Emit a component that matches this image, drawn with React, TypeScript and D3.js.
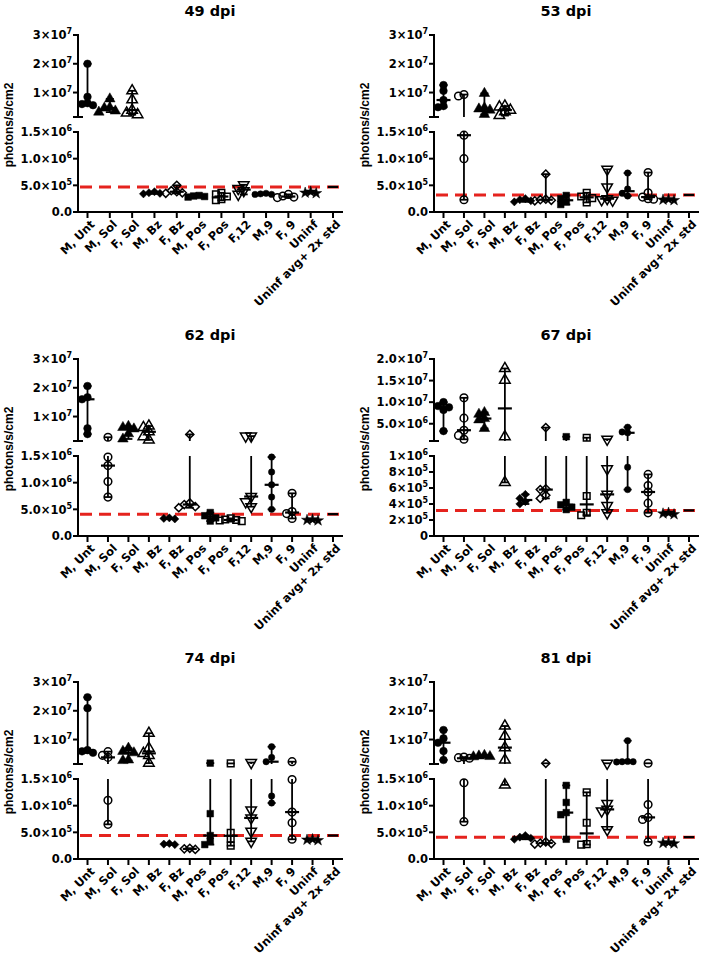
import React from "react";
import * as d3 from "d3";

const categories = ["M, Unt", "M, Sol", "F, Sol", "M, Bz", "F, Bz", "M, Pos", "F, Pos", "F,12", "M,9", "F, 9", "Uninf", "Uninf avg+ 2x std"];

// symbol of each plotted column; the 49 dpi plot has no open-circle 2nd column
const columnMarkers = ["circle", "openCircle", "triangle", "openTriangle", "diamond", "openDiamond", "square", "openSquare", "openTriangleDown", "dot", "openCircle", "star", "none"];
const markers49 = columnMarkers.filter((_, i) => i !== 1);

const dpi49 = [
  [2.0e7, 8.5e6, 6.3e6, 6.0e6, 5.6e6],
  [7.8e6, 4.8e6, 4.6e6, 3.6e6, 3.2e6],
  [1.06e7, 7.5e6, 3.9e6, 2.9e6, 2.3e6],
  [3.8e5, 3.6e5, 3.5e5, 3.4e5],
  [5.0e5, 4.0e5, 3.8e5, 3.6e5, 3.5e5],
  [3.1e5, 3.0e5, 2.9e5, 2.8e5],
  [3.6e5, 3.3e5, 2.9e5, 2.4e5, 2.2e5],
  [5.1e5, 4.4e5, 4.0e5, 3.3e5],
  [3.5e5, 3.4e5, 3.3e5, 3.3e5],
  [3.3e5, 3.0e5, 2.8e5, 2.7e5],
  [3.8e5, 3.6e5, 3.5e5],
  [4.7e5],
];

const dpi53 = [
  [1.26e7, 1.06e7, 7.4e6, 5.3e6, 4.9e6],
  [9.3e6, 8.8e6, 1.44e6, 1.0e6, 2.3e5],
  [9.7e6, 4.7e6, 4.3e6, 3.9e6, 2.4e6],
  [5.3e6, 5.0e6, 3.9e6, 3.3e6, 2.0e6],
  [2.5e5, 2.3e5, 2.1e5, 1.9e5],
  [7.1e5, 2.4e5, 2.3e5, 2.2e5, 2.1e5],
  [3.1e5, 2.5e5, 1.9e5, 1.4e5],
  [3.6e5, 2.9e5, 2.6e5, 1.8e5],
  [8.0e5, 4.7e5, 2.5e5, 2.3e5, 2.2e5],
  [7.3e5, 4.3e5, 3.5e5, 3.0e5],
  [7.4e5, 3.6e5, 2.8e5, 2.5e5, 2.4e5],
  [2.4e5, 2.3e5, 2.2e5],
  [3.2e5],
];

const dpi62 = [
  [2.06e7, 1.67e7, 1.6e7, 5.9e6, 3.9e6],
  [2.8e6, 1.48e6, 1.32e6, 1.02e6, 7.3e5],
  [6.6e6, 6.2e6, 5.7e6, 4.0e6, 2.2e6],
  [6.7e6, 6.2e6, 4.7e6, 3.0e6, 1.9e6],
  [3.4e5, 3.3e5, 3.2e5],
  [3.8e6, 6.2e5, 5.9e5, 5.5e5, 5.3e5],
  [4.4e5, 3.8e5, 3.4e5, 2.8e5],
  [3.3e5, 3.1e5, 3.0e5, 2.9e5, 2.8e5],
  [3.2e6, 3.2e6, 7.4e5, 6.4e5, 5.5e5],
  [1.48e6, 1.2e6, 9.6e5, 7.3e5, 5.0e5],
  [8.0e5, 4.6e5, 4.2e5, 3.3e5],
  [3.1e5, 3.0e5, 2.9e5],
  [4.1e5],
];

const dpi67 = [
  [1.0e7, 9.1e6, 8.8e6, 8.2e6, 3.3e6],
  [1.1e7, 6.3e6, 3.5e6, 2.3e6, 1.4e6],
  [7.6e6, 7.2e6, 6.2e6, 5.9e6, 3.9e6],
  [1.78e7, 1.51e7, 2.0e6, 6.7e5],
  [5.2e5, 4.7e5, 4.3e5, 4.0e5],
  [4.1e6, 5.9e5, 5.8e5, 5.1e5, 4.7e5],
  [2.0e6, 4.2e5, 3.9e5, 3.6e5, 3.3e5],
  [1.76e6, 5.0e5, 2.9e5, 2.6e5],
  [1.4e6, 8.4e5, 5.2e5, 3.8e5, 2.9e5],
  [4.2e6, 3.1e6, 2.9e6, 8.6e5, 5.8e5],
  [7.7e5, 6.3e5, 5.5e5, 4.1e5, 2.9e5],
  [2.9e5, 2.8e5, 2.7e5],
  [3.2e5],
];

const dpi74 = [
  [2.47e7, 2.09e7, 6.3e6, 5.9e6, 5.4e6],
  [5.8e6, 4.5e6, 3.8e6, 1.1e6, 6.5e5],
  [7.0e6, 5.9e6, 5.4e6, 2.9e6, 2.7e6],
  [1.22e7, 7.0e6, 5.2e6, 4.5e6, 1.8e6],
  [2.9e5, 2.8e5, 2.7e5],
  [2.0e5, 1.9e5, 1.8e5],
  [1.8e6, 8.5e5, 4.4e5, 3.3e5, 2.7e5],
  [1.7e6, 4.9e5, 3.8e5, 2.5e5],
  [2.0e6, 9.2e5, 7.7e5, 5.2e5, 3.3e5],
  [7.5e6, 3.8e6, 2.3e6, 1.18e6, 1.05e6],
  [2.3e6, 1.49e6, 8.8e5, 6.8e5, 3.7e5],
  [3.7e5, 3.6e5, 3.5e5],
  [4.4e5],
];

const dpi81 = [
  [1.33e7, 1.04e7, 8.9e6, 6.0e6, 2.9e6],
  [3.9e6, 3.7e6, 3.5e6, 1.43e6, 7.0e5],
  [4.5e6, 4.3e6, 4.1e6, 4.0e6],
  [1.47e7, 1.12e7, 7.2e6, 2.9e6, 1.39e6],
  [4.4e5, 4.1e5, 3.9e5, 3.7e5],
  [1.75e6, 3.2e5, 3.0e5, 2.9e5, 2.8e5],
  [1.38e6, 1.06e6, 8.7e5, 8.3e5, 3.7e5],
  [1.25e6, 6.8e5, 2.8e5, 2.7e5],
  [1.75e6, 1.04e6, 9.3e5, 9.0e5, 5.5e5],
  [9.6e6, 2.4e6, 2.3e6, 2.3e6, 2.2e6],
  [1.75e6, 1.02e6, 7.8e5, 7.4e5, 3.2e5],
  [3.1e5, 3.0e5, 2.9e5],
  [4.1e5],
];

const stdLowerTicks = [0, 5e5, 1e6, 1.5e6];
const stdUpperTicks = [1e7, 2e7, 3e7];
const lowerTicks67 = [0, 2e5, 4e5, 6e5, 8e5, 1e6];
const upperTicks67 = [5e6, 1e7, 1.5e7, 2e7];

const panels = [
  { title: "49 dpi", data: dpi49, markers: markers49, lowMax: 1.5e6, upMax: 3e7, lowTicks: stdLowerTicks, upTicks: stdUpperTicks, lowDec: 1, upDec: 0 },
  { title: "53 dpi", data: dpi53, markers: columnMarkers, lowMax: 1.5e6, upMax: 3e7, lowTicks: stdLowerTicks, upTicks: stdUpperTicks, lowDec: 1, upDec: 0 },
  { title: "62 dpi", data: dpi62, markers: columnMarkers, lowMax: 1.5e6, upMax: 3e7, lowTicks: stdLowerTicks, upTicks: stdUpperTicks, lowDec: 1, upDec: 0 },
  { title: "67 dpi", data: dpi67, markers: columnMarkers, lowMax: 1e6, upMax: 2e7, lowTicks: lowerTicks67, upTicks: upperTicks67, lowDec: 0, upDec: 1 },
  { title: "74 dpi", data: dpi74, markers: columnMarkers, lowMax: 1.5e6, upMax: 3e7, lowTicks: stdLowerTicks, upTicks: stdUpperTicks, lowDec: 1, upDec: 0 },
  { title: "81 dpi", data: dpi81, markers: columnMarkers, lowMax: 1.5e6, upMax: 3e7, lowTicks: stdLowerTicks, upTicks: stdUpperTicks, lowDec: 1, upDec: 0 },
];

const BOLD = "'DejaVu Sans', sans-serif";
const ARIAL = "'Liberation Sans', Arial, sans-serif";
const RED = "#e5231e";

function sci(v, dec) {
  if (v === 0) return { base: dec ? "0.0" : "0", exp: null };
  const e = Math.floor(Math.log10(v) + 1e-9);
  const m = v / Math.pow(10, e);
  return { base: m.toFixed(dec) + "×10", exp: String(e) };
}

function symbolPath(kind) {
  const s = (t, size) => d3.symbol(t, size)();
  switch (kind) {
    case "circle":
    case "openCircle":
      return s(d3.symbolCircle, 46);
    case "dot":
      return s(d3.symbolCircle, 32);
    case "triangle":
    case "openTriangle":
    case "openTriangleDown":
      return s(d3.symbolTriangle, 48);
    case "diamond":
    case "openDiamond":
      return s(d3.symbolDiamond2, 42);
    case "square":
    case "openSquare":
      return s(d3.symbolSquare, 44);
    case "star":
      return s(d3.symbolStar, 38);
    default:
      return null;
  }
}

// spread overlapping points sideways, roughly like a column scatter
function spread(vals, cx, yOf) {
  const placed = [];
  const order = vals.map(v => ({ v, y: yOf(v) })).sort((a, b) => a.y - b.y);
  for (const pt of order) {
    for (const k of [0, -1, 1, -2, 2, -3, 3]) {
      const x = cx + k * 5.5;
      if (placed.every(q => Math.hypot(q.x - x, q.y - pt.y) >= 5.5)) {
        placed.push({ x, y: pt.y });
        break;
      }
    }
  }
  return placed;
}

function Panel({ p, x0, oy }) {
  const lower = d3.scaleLinear().domain([0, p.lowMax]).range([oy + 212, oy + 132]);
  const upper = d3.scaleLinear().domain([p.lowMax, p.upMax]).range([oy + 117, oy + 35]);
  const yOf = v => (v <= p.lowMax ? lower(v) : upper(v));
  const xCol = d3.scalePoint().domain(d3.range(p.data.length)).range([x0 + 9.5, x0 + 255]);
  const xLab = d3.scalePoint().domain(categories).range([x0 + 9.5, x0 + 255]);
  const thr = p.data[p.data.length - 1][0];
  const zero = lower(0);

  const tickLabel = (v, dec, y, key) => {
    const t = sci(v, dec);
    return (
      <text key={key} x={x0 - 6} y={y + 4.3} textAnchor="end" fontFamily={BOLD} fontWeight="bold" fontSize={11.5}>
        {t.base}
        {t.exp && <tspan dy={-5} fontSize={8}>{t.exp}</tspan>}
      </text>
    );
  };

  return (
    <g>
      <text x={x0 + 132} y={oy + 16} textAnchor="middle" fontFamily={BOLD} fontWeight="bold" fontSize={14.5}>{p.title}</text>
      <text transform={`translate(${x0 - 65},${oy + 125}) rotate(-90)`} textAnchor="middle" fontFamily={ARIAL} fontWeight="bold" fontSize={12}>photons/s/cm2</text>

      {/* red dashed threshold */}
      <line x1={x0 + 2} x2={x0 + 263} y1={lower(thr)} y2={lower(thr)} stroke={RED} strokeWidth={3} strokeDasharray="12 7" />

      {/* y axis, upper segment */}
      <line x1={x0} x2={x0} y1={upper(p.lowMax)} y2={upper(p.upMax) - 1} stroke="#000" strokeWidth={2} />
      <line x1={x0 - 5} x2={x0 + 5} y1={upper(p.lowMax)} y2={upper(p.lowMax)} stroke="#000" strokeWidth={2} />
      {p.upTicks.map(v => (
        <g key={"u" + v}>
          <line x1={x0 - 5} x2={x0} y1={upper(v)} y2={upper(v)} stroke="#000" strokeWidth={2} />
          {tickLabel(v, p.upDec, upper(v), "ul" + v)}
        </g>
      ))}

      {/* y axis, lower segment */}
      <line x1={x0} x2={x0} y1={zero + 1} y2={lower(p.lowMax) - 1} stroke="#000" strokeWidth={2} />
      {p.lowTicks.map(v => (
        <g key={"l" + v}>
          <line x1={x0 - 5} x2={x0} y1={lower(v)} y2={lower(v)} stroke="#000" strokeWidth={2} />
          {tickLabel(v, p.lowDec, lower(v), "ll" + v)}
        </g>
      ))}

      {/* x axis */}
      <line x1={x0 - 1} x2={x0 + 265} y1={zero} y2={zero} stroke="#000" strokeWidth={2} />
      {p.data.map((_, i) => (
        <line key={"xt" + i} x1={xCol(i)} x2={xCol(i)} y1={zero} y2={zero + 6} stroke="#000" strokeWidth={2} />
      ))}
      {categories.map(c => (
        <text key={c} transform={`translate(${xLab(c) + 8},${zero + 13}) rotate(-45)`} textAnchor="end" fontFamily={BOLD} fontWeight="bold" fontSize={11.5}>{c}</text>
      ))}

      {/* columns: median with range + points */}
      {p.data.map((vals, i) => {
        const cx = xCol(i);
        const kind = p.markers[i];
        const mn = d3.min(vals), mx = d3.max(vals), md = d3.median(vals);
        const segs = [];
        if (mx <= p.lowMax) segs.push([lower(mn), lower(mx)]);
        else if (mn > p.lowMax) segs.push([upper(mn), upper(mx)]);
        else {
          segs.push([lower(mn), lower(p.lowMax)]);
          segs.push([upper(p.lowMax), upper(mx)]);
        }
        const path = symbolPath(kind);
        const open = kind.startsWith("open");
        const pts = kind === "none" ? [] : spread(vals, cx, yOf);
        const mw = vals.length === 1 ? 5 : 7;
        return (
          <g key={"c" + i}>
            {segs.map((s, j) => (
              <line key={j} x1={cx} x2={cx} y1={s[0]} y2={s[1]} stroke="#000" strokeWidth={1.8} />
            ))}
            {vals.length > 1 && [mn, mx].map((v, j) => (
              <line key={"cap" + j} x1={cx - 4} x2={cx + 4} y1={yOf(v)} y2={yOf(v)} stroke="#000" strokeWidth={1.8} />
            ))}
            <line x1={cx - mw} x2={cx + mw} y1={yOf(md)} y2={yOf(md)} stroke="#000" strokeWidth={2.2} />
            {pts.map((q, j) => (
              <path
                key={"p" + j}
                d={path}
                transform={`translate(${q.x},${q.y})${kind === "openTriangleDown" ? " rotate(180)" : ""}`}
                fill={open ? "none" : "#000"}
                stroke="#000"
                strokeWidth={open ? 1.5 : 0.5}
              />
            ))}
          </g>
        );
      })}
    </g>
  );
}

export default function App() {
  const panelX = [78, 434];
  const rowY = [0, 324, 647];
  return (
    <svg width={704} height={959} style={{ position: "absolute", left: 0, top: 0, background: "#fff" }}>
      <rect width={704} height={959} fill="#fff" />
      {panels.map((p, i) => (
        <Panel key={p.title} p={p} x0={panelX[i % 2]} oy={rowY[Math.floor(i / 2)]} />
      ))}
    </svg>
  );
}
